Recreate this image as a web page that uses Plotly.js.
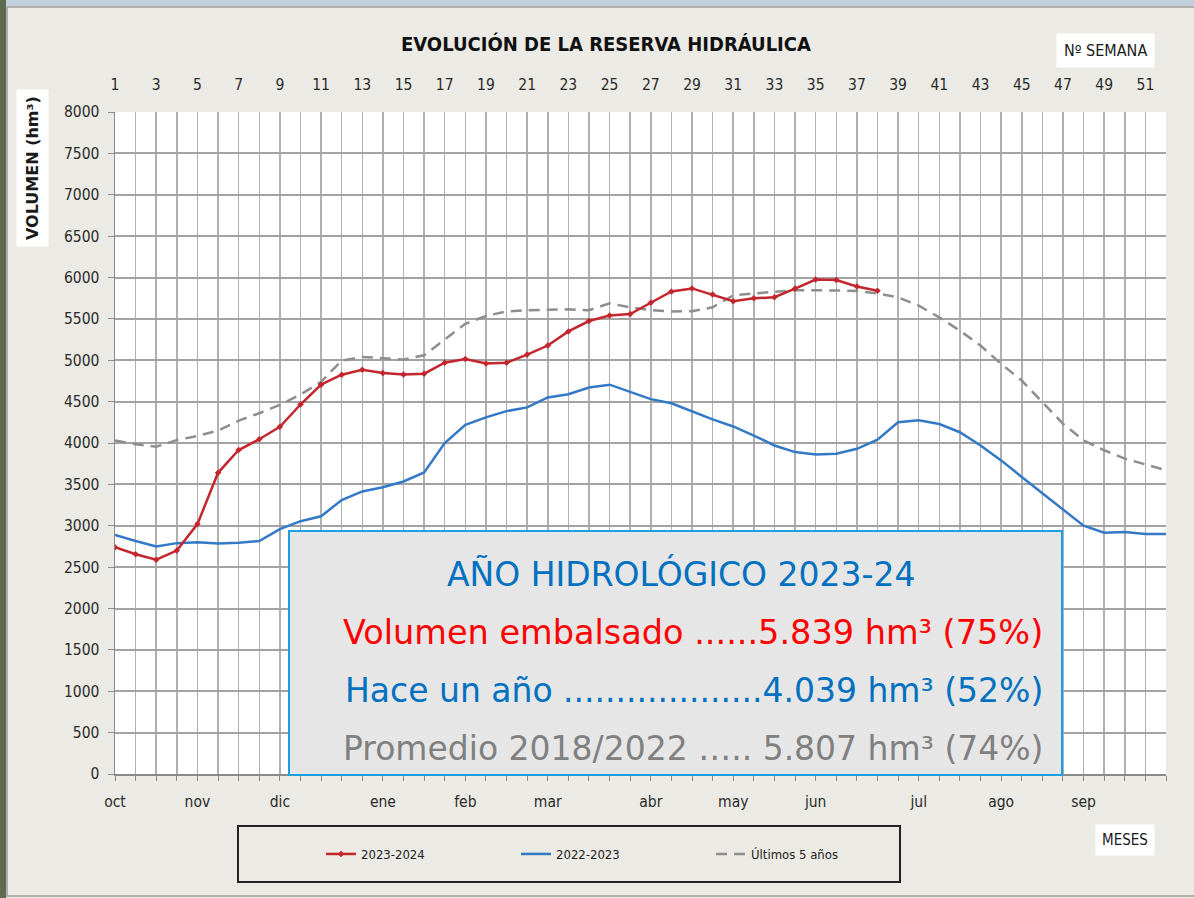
<!DOCTYPE html>
<html><head><meta charset="utf-8">
<script src="https://cdn.plot.ly/plotly-3.0.1.min.js"></script>
<style>html,body{margin:0;padding:0;background:#ECEAE4;} #chart{width:1194px;height:898px;}</style>
</head><body><div id="chart"></div>
<script>
// ---- data ----
const weeks = [1,2,3,4,5,6,7,8,9,10,11,12,13,14,15,16,17,18,19,20,21,22,23,24,25,26,
  27,28,29,30,31,32,33,34,35,36,37,38,39,40,41,42,43,44,45,46,47,48,49,50,51,52];
const vol2324 = [2740,2655,2590,2700,3020,3640,3915,4045,4195,4465,4705,4825,4885,4845,4828,4838,
  4970,5015,4960,4970,5068,5178,5348,5474,5540,5558,5695,5832,5868,5795,5713,5748,5762,5866,5975,5970,5892,5839];
const vol2223 = [2890,2815,2750,2790,2800,2785,2795,2815,2960,3055,3115,3310,3415,3465,3535,3645,
  4000,4220,4310,4385,4430,4550,4590,4670,4705,4615,4530,4480,4385,4285,4200,4090,3970,3890,3862,3870,
  3930,4039,4250,4275,4230,4130,3970,3790,3590,3390,3190,3000,2915,2925,2900,2900];
const volAvg5 = [4030,3985,3955,4035,4085,4150,4270,4360,4460,4585,4740,4995,5040,5020,5008,5060,
  5245,5440,5535,5590,5605,5612,5615,5605,5687,5640,5606,5590,5592,5640,5785,5808,5830,5845,5847,5847,
  5838,5807,5760,5660,5518,5357,5177,4956,4755,4494,4233,4032,3912,3811,3743,3671];
const weekLabels = [1,3,5,7,9,11,13,15,17,19,21,23,25,27,29,31,33,35,37,39,41,43,45,47,49,51];
const monthNames = ['oct','nov','dic','ene','feb','mar','abr','may','jun','jul','ago','sep'];
const monthWeeks = [1,5,9,14,18,22,27,31,35,40,44,48];
const seriesNames = ['2023-2024','2022-2023','Últimos 5 años'];
const boxTitle = 'AÑO HIDROLÓGICO 2023-24';
const boxLines = [
  'Volumen embalsado ......5.839 hm³ (75%)',
  'Hace un año ...................4.039 hm³ (52%)',
  'Promedio 2018/2022 ….. 5.807 hm³ (74%)'
];

// ---- geometry helpers (pixel -> paper) ----
const L=115, R=1166, T=112, B=774;
const px = x => (x-L)/(R-L);
const py = y => (B-y)/(B-T);

const bottomText = weeks.map(w => { const i = monthWeeks.indexOf(w); return i>=0 ? monthNames[i] : ''; });

const cond = '"DejaVu Sans Condensed", "DejaVu Sans", sans-serif';
const tickFont = {family:cond, size:15.5, color:'#2a2a2a'};
const boxFont = '"DejaVu Sans", Verdana, sans-serif';

const traces = [
  {x: weeks, y: volAvg5, name: seriesNames[2], mode:'lines', legendrank:3,
   line:{color:'#8E8E8E', width:2.5, dash:'11px,7px'}},
  {x: weeks, y: vol2223, name: seriesNames[1], mode:'lines', legendrank:2,
   line:{color:'#3479C6', width:2.5}},
  {x: weeks.slice(0, vol2324.length), y: vol2324, name: seriesNames[0], mode:'lines+markers', legendrank:1,
   line:{color:'#C4262E', width:2.5}, marker:{symbol:'diamond', size:5, color:'#C4262E'}},
  {x: weeks, y: vol2223, xaxis:'x2', mode:'lines', line:{width:0, color:'rgba(0,0,0,0)'},
   showlegend:false, hoverinfo:'skip'}
];

const shapes = [
  {type:'rect', xref:'paper', yref:'paper', x0:px(0), x1:px(6), y0:py(898), y1:py(0),
   fillcolor:'#5E6B4E', line:{width:0}, layer:'below'},
  {type:'rect', xref:'paper', yref:'paper', x0:px(6), x1:px(1194), y0:py(6), y1:py(0),
   fillcolor:'#C3CFDB', line:{width:0}, layer:'below'},
  {type:'rect', xref:'paper', yref:'paper', x0:px(7), x1:px(1200), y0:py(896), y1:py(7),
   fillcolor:'rgba(0,0,0,0)', line:{color:'#9C9C9C', width:1.5}, layer:'below'},
  {type:'rect', xref:'paper', yref:'paper', x0:px(289), x1:px(1062), y0:py(775), y1:py(531),
   fillcolor:'#E6E6E6', line:{color:'#1BA1E2', width:2}, layer:'above'},
  {type:'rect', xref:'paper', yref:'paper', x0:px(238), x1:px(900), y0:py(882), y1:py(826),
   fillcolor:'rgba(0,0,0,0)', line:{color:'#222222', width:2}}
];

const ann = (text, x, y, extra) => Object.assign({text, xref:'paper', yref:'paper', x:px(x), y:py(y),
  xanchor:'center', yanchor:'middle', showarrow:false}, extra);

const annotations = [
  ann('EVOLUCIÓN DE LA RESERVA HIDRÁULICA', 606, 44, {font:{family:cond, size:20, color:'#111', weight:'bold'}}),
  ann('Nº SEMANA', 1105, 50, {bgcolor:'#FFFFFF', borderpad:7, font:{family:cond, size:16, color:'#1a1a1a'}}),
  ann('MESES', 1125, 840, {bgcolor:'#FFFFFF', borderpad:6, font:{family:cond, size:15, color:'#1a1a1a'}}),
  ann('VOLUMEN (hm³)', 33, 168, {textangle:-90, bgcolor:'#FFFFFF', borderpad:6,
    font:{family:'"DejaVu Sans", sans-serif', size:16, color:'#1a1a1a', weight:'bold'}}),
  ann(boxTitle, 681, 574, {font:{family:boxFont, size:33, color:'#0070C0'}}),
  ann(boxLines[0], 1045, 632, {xanchor:'right', font:{family:boxFont, size:33.5, color:'#FF0000'}}),
  ann(boxLines[1], 1045, 690, {xanchor:'right', font:{family:boxFont, size:33, color:'#0070C0'}}),
  ann(boxLines[2], 1045, 748, {xanchor:'right', font:{family:boxFont, size:33, color:'#808080'}})
];

const layout = {
  width:1194, height:898,
  margin:{l:L, r:1194-R, t:T, b:898-B},
  paper_bgcolor:'#ECEAE4', plot_bgcolor:'#FFFFFF',
  showlegend:true,
  legend:{orientation:'h', x:px(321), xanchor:'left', y:py(854), yanchor:'middle',
    bgcolor:'rgba(0,0,0,0)', borderwidth:0, entrywidth:150, entrywidthmode:'pixels',
    font:{family:cond, size:13, color:'#222'}},
  xaxis:{range:[1,52], tickmode:'array', tickvals:weeks, ticktext:bottomText,
    showgrid:true, gridcolor:'#B0B0B0', gridwidth:1.5, ticks:'outside', ticklen:5, tickcolor:'#8A8A8A',
    showline:true, linecolor:'#8A8A8A', linewidth:1.5, zeroline:false, tickangle:0,
    ticklabelstandoff:8, tickfont:tickFont},
  xaxis2:{overlaying:'x', side:'top', range:[1,52], tickmode:'array', tickvals:weekLabels,
    ticktext:weekLabels.map(String), showgrid:false, ticks:'', showline:false, zeroline:false,
    tickangle:0, ticklabelstandoff:18, tickfont:tickFont},
  yaxis:{range:[0,8000], tick0:0, dtick:500, showgrid:true, gridcolor:'#A3A3A3', gridwidth:2,
    ticks:'outside', ticklen:6, tickcolor:'#8A8A8A', showline:true, linecolor:'#8A8A8A', linewidth:1.5,
    zeroline:false, ticklabelstandoff:5, tickfont:tickFont},
  shapes:shapes,
  annotations:annotations
};

Plotly.newPlot('chart', traces, layout, {displayModeBar:false, staticPlot:true});
</script></body></html>
